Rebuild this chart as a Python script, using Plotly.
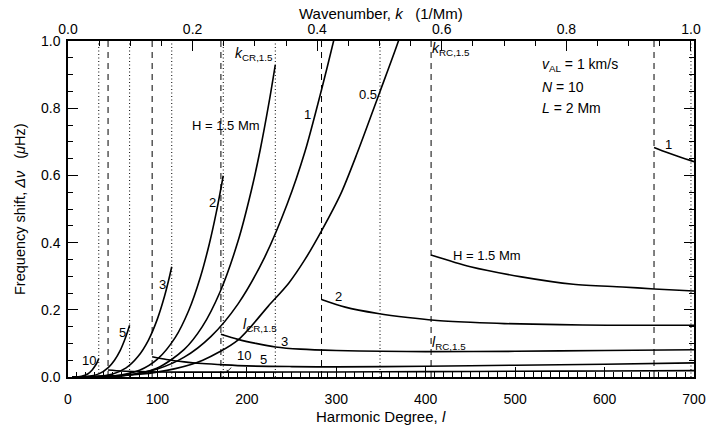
import plotly.graph_objects as go

# ---------------- data ----------------
# Left branches (H in Mm): harmonic degree l and frequency shift (uHz)
l_H10_left = [5, 15, 22, 27, 30, 32.5, 34.4]
v_H10_left = [0.0, 0.002, 0.009, 0.021, 0.032, 0.043, 0.055]

l_H5_left = [5, 20, 35, 45, 52, 58, 63, 66.5, 68.9]
v_H5_left = [0.0, 0.001, 0.010, 0.028, 0.050, 0.077, 0.108, 0.134, 0.154]

l_H3_left = [5, 30, 50, 65, 78, 90, 100, 108, 113, 116]
v_H3_left = [0.0, 0.001, 0.009, 0.027, 0.060, 0.110, 0.173, 0.241, 0.293, 0.328]

l_H2_left = [5, 50, 80, 100, 120, 135, 148, 158, 166, 173.6]
v_H2_left = [0.0, 0.0025, 0.020, 0.053, 0.118, 0.198, 0.297, 0.396, 0.492, 0.599]

l_H15_left = [5, 60, 100, 130, 150, 170, 190, 205, 215, 225, 231.8]
v_H15_left = [0.0, 0.003, 0.027, 0.082, 0.149, 0.253, 0.403, 0.555, 0.677, 0.820, 0.929]

l_H1_left = [5, 60, 100, 130, 160, 190, 220, 245, 265, 283.5, 297, 310]
v_H1_left = [0.0, 0.004, 0.024, 0.059, 0.121, 0.217, 0.357, 0.514, 0.671, 0.855, 1.0, 1.15]

l_H05_left = [5, 80, 120, 150.7, 190, 224, 247, 265, 283.5, 305, 323.6, 348.5, 369.5, 385]
v_H05_left = [0.0, 0.008, 0.025, 0.050, 0.110, 0.211, 0.280, 0.350, 0.435, 0.545, 0.668, 0.847, 1.0, 1.13]

# Right branches
l_H1_right = [655.3, 670, 685, 700]
v_H1_right = [0.683, 0.668, 0.654, 0.641]

l_H15_right = [406, 450, 507, 565, 620, 655.6, 700]
v_H15_right = [0.363, 0.328, 0.298, 0.276, 0.268, 0.262, 0.256]

l_H2_right = [283.5, 310, 346.6, 380, 409.7, 450, 488, 550, 602.8, 650, 700]
v_H2_right = [0.231, 0.208, 0.189, 0.177, 0.169, 0.163, 0.159, 0.156, 0.154, 0.154, 0.154]

l_H3_right = [171, 190, 210, 232, 260, 300, 350, 400, 500, 600, 700]
v_H3_right = [0.127, 0.112, 0.100, 0.0895, 0.083, 0.079, 0.0765, 0.0755, 0.0765, 0.079, 0.081]

l_H5_right = [94.1, 110, 130, 150, 175, 200, 250, 300, 400, 500, 600, 700]
v_H5_right = [0.060, 0.052, 0.045, 0.040, 0.036, 0.033, 0.031, 0.030, 0.032, 0.035, 0.038, 0.042]

l_H10_right = [44.8, 60, 80, 100, 150, 200, 300, 400, 500, 600, 700]
v_H10_right = [0.021, 0.018, 0.016, 0.015, 0.0145, 0.0145, 0.015, 0.016, 0.017, 0.018, 0.019]

# Critical degrees
l_RC_dashed = [44.8, 94.1, 171, 283.5, 406, 655.3]
l_CR_dotted = [34.4, 68.9, 116, 173.6, 231.8, 348.9, 696.6]

# Axis ticks
x_ticks = [0, 100, 200, 300, 400, 500, 600, 700]
y_ticks = [0.0, 0.2, 0.4, 0.6, 0.8, 1.0]
k_ticks = [0.0, 0.2, 0.4, 0.6, 0.8, 1.0]

# Curve labels: (text, l, shift, xanchor, size)
curve_labels = [
    ("H = 1.5 Mm", 217, 0.748, "right", 13),
    ("1", 268, 0.78, "center", 13),
    ("0.5", 335, 0.842, "center", 13),
    ("2", 162, 0.519, "center", 13),
    ("3", 105.6, 0.276, "center", 13),
    ("5", 60.8, 0.131, "center", 13),
    ("10", 23.7, 0.05, "center", 13),
    ("1", 671.7, 0.691, "center", 13),
    ("H = 1.5 Mm", 428, 0.363, "left", 13),
    ("2", 302.6, 0.239, "center", 13),
    ("3", 242.5, 0.107, "center", 13),
    ("5", 219, 0.053, "center", 13),
    ("<i>k</i><sub>CR,1.5</sub>", 231, 0.96, "right", 14),
    ("<i>k</i><sub>RC,1.5</sub>", 405, 0.975, "left", 14),
    ("<i>l</i><sub>CR,1.5</sub>", 193, 0.154, "left", 14),
    ("<i>l</i><sub>RC,1.5</sub>", 405, 0.10, "left", 14),
    ("<i>v</i><sub>AL</sub> = 1 km/s", 528, 0.93, "left", 14),
    ("<i>N</i> = 10", 528, 0.864, "left", 14),
    ("<i>L</i> = 2 Mm", 528, 0.80, "left", 14),
]

FONT = "Liberation Sans, Arial, Helvetica, sans-serif"

fig = go.Figure()

branches = [
    (l_H10_left, v_H10_left), (l_H5_left, v_H5_left), (l_H3_left, v_H3_left),
    (l_H2_left, v_H2_left), (l_H15_left, v_H15_left), (l_H1_left, v_H1_left),
    (l_H05_left, v_H05_left),
    (l_H1_right, v_H1_right), (l_H15_right, v_H15_right), (l_H2_right, v_H2_right),
    (l_H3_right, v_H3_right), (l_H5_right, v_H5_right), (l_H10_right, v_H10_right),
]
for lx, vy in branches:
    fig.add_trace(go.Scatter(x=lx, y=vy, mode="lines",
                             line=dict(color="black", width=1.6, shape="spline", smoothing=0.8),
                             showlegend=False, hoverinfo="skip"))

# invisible trace to activate the top (wavenumber) axis
fig.add_trace(go.Scatter(x=[0.5], y=[0.5], xaxis="x2", mode="markers",
                         marker=dict(opacity=0), showlegend=False, hoverinfo="skip"))

for xv in l_RC_dashed:
    fig.add_shape(type="line", x0=xv, x1=xv, y0=0, y1=1, xref="x", yref="y",
                  line=dict(color="black", width=1, dash="6px,5px"))
for xv in l_CR_dotted:
    fig.add_shape(type="line", x0=xv, x1=xv, y0=0, y1=1, xref="x", yref="y",
                  line=dict(color="black", width=1, dash="1px,2.5px"))

for txt, xv, yv, anc, sz in curve_labels:
    fig.add_annotation(x=xv, y=yv, text=txt, showarrow=False, xanchor=anc,
                       yanchor="middle", font=dict(size=sz, color="black", family=FONT))

# "10" with pointer
fig.add_annotation(x=177.5, y=0.015, ax=197, ay=0.065, axref="x", ayref="y",
                   text="10", showarrow=True, arrowhead=1, arrowsize=0.7,
                   arrowwidth=0.8, arrowcolor="black", standoff=0, startstandoff=6,
                   font=dict(size=13, color="black", family=FONT))

# axis titles
fig.add_annotation(x=0.5, y=-0.119, xref="paper", yref="paper",
                   text="Harmonic Degree, <i>l</i>", showarrow=False,
                   xanchor="center", yanchor="middle",
                   font=dict(size=15, color="black", family=FONT))
fig.add_annotation(x=0.5, y=1.083, xref="paper", yref="paper",
                   text="Wavenumber, <i>k</i>   (1/Mm)", showarrow=False,
                   xanchor="center", yanchor="middle",
                   font=dict(size=15, color="black", family=FONT))
fig.add_annotation(x=-0.0767, y=0.5, xref="paper", yref="paper", textangle=-90,
                   text="Frequency shift, <i>Δν</i>   (<i>μ</i>Hz)", showarrow=False,
                   xanchor="center", yanchor="middle",
                   font=dict(size=14.5, color="black", family=FONT))

axis_common = dict(showgrid=False, zeroline=False, showline=True, linecolor="black",
                   linewidth=1.5, ticks="inside", ticklen=10, tickwidth=1.2,
                   tickcolor="black", tickfont=dict(size=14, color="black", family=FONT))

fig.update_layout(
    width=718, height=430,
    margin=dict(l=68, r=24, t=41, b=53),
    paper_bgcolor="white", plot_bgcolor="white",
    font=dict(family=FONT, color="black"),
    xaxis=dict(range=[0, 700], tickvals=x_ticks, ticktext=[str(v) for v in x_ticks],
               minor=dict(dtick=10, ticklen=5, tickwidth=1, ticks="inside", tickcolor="black"),
               ticklabelstandoff=8, **axis_common),
    xaxis2=dict(range=[0, 700 / 696.6], overlaying="x", side="top", tickvals=k_ticks,
                ticktext=[f"{v:.1f}" for v in k_ticks],
                minor=dict(dtick=0.05, ticklen=5, tickwidth=1, ticks="inside", tickcolor="black"),
                ticklabelstandoff=0, **axis_common),
    yaxis=dict(range=[0, 1], tickvals=y_ticks, ticktext=[f"{v:.1f}" for v in y_ticks],
               mirror="ticks",
               minor=dict(dtick=0.05, ticklen=5, tickwidth=1, ticks="inside", tickcolor="black"),
               ticklabelstandoff=3, **axis_common),
)

# remove the browser's default 8px body margin so the figure fills the window exactly
fig.write_html("out.html", config={"displayModeBar": False},
               post_script="document.body.style.margin='0';document.body.style.overflow='hidden';")
